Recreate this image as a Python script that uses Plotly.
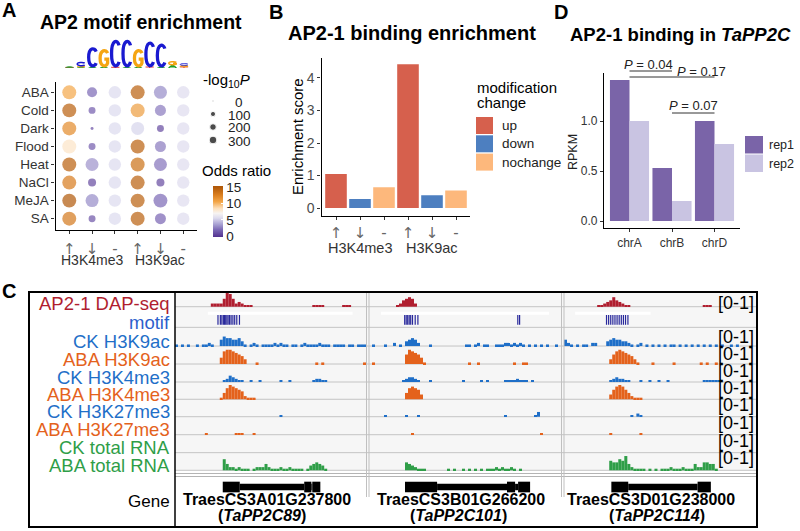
import plotly.graph_objects as go

W, H = 800, 531
SANS = "Liberation Sans, Arial, Helvetica, sans-serif"
ARROW_FONT = "DejaVu Sans, Liberation Sans, sans-serif"

# ---------------- panel A: motif enrichment dot plot ----------------
STRESS = ["ABA", "Cold", "Dark", "Flood", "Heat", "NaCl", "MeJA", "SA"]
CHANGE_ARROWS = ["↑", "↓", "-", "↑", "↓", "-"]
MARKS = ["H3K4me3", "H3K9ac"]
NEG_LOG10_P = [
    [1200, 560, 920, 1200, 1020, 920],
    [1200, 230, 920, 1200, 700, 920],
    [1200, 17, 920, 1020, 230, 920],
    [1200, 230, 920, 1200, 700, 920],
    [1200, 1020, 920, 1200, 1020, 920],
    [1200, 330, 920, 1200, 330, 920],
    [1200, 1020, 920, 1200, 1200, 920],
    [1200, 230, 920, 1200, 700, 920],
]
ODDS_RATIO = [
    [10.5, 2.0, 5.5, 14.5, 3.0, 5.6],
    [14.5, 1.5, 5.5, 11.0, 2.5, 5.6],
    [12.0, 1.0, 5.5, 5.3, 0.8, 5.6],
    [8.2, 1.5, 5.5, 14.5, 2.5, 5.6],
    [14.5, 3.2, 5.5, 13.5, 2.3, 5.6],
    [12.8, 0.8, 5.5, 14.5, 0.8, 5.6],
    [15.0, 3.0, 5.5, 14.5, 2.0, 5.6],
    [13.0, 1.2, 5.5, 14.5, 1.8, 5.6],
]
SIZE_BREAKS = [0, 100, 200, 300]
ODDS_TICKS = [0, 5, 10, 15]
ODDS_MIN, ODDS_MAX = -0.2, 15.3
ODDS_COLORS = [(0, "#52318f"), (2, "#7b68b5"), (3.5, "#a49cd0"), (5.5, "#dcdaee"),
               (7, "#f7f4f2"), (8.5, "#fde0bb"), (10.5, "#f3a648"), (12.5, "#dc8020"),
               (15, "#b05808")]

# sequence logo (letter, bits) stacked bottom to top
LOGO = [
    [("T", 0.04), ("A", 0.05)],
    [("A", 0.07), ("G", 0.08), ("C", 0.26)],
    [("A", 0.08), ("C", 1.36)],
    [("A", 0.08), ("G", 1.22)],
    [("T", 0.05), ("C", 1.95)],
    [("A", 0.05), ("C", 1.95)],
    [("A", 0.08), ("G", 1.22)],
    [("T", 0.07), ("C", 1.8)],
    [("A", 0.06), ("C", 1.65)],
    [("A", 0.22), ("G", 0.24)],
    [("T", 0.08), ("G", 0.1), ("C", 0.14)],
]
LOGO_COLORS = {"A": "#1fa02a", "C": "#1a1ad0", "G": "#f5a512", "T": "#e02020"}

# ---------------- panel B: binding enrichment ----------------
B_CHANGE = ["up", "down", "nochange", "up", "down", "nochange"]
B_SCORE = [1.05, 0.28, 0.64, 4.42, 0.39, 0.54]
CHANGE_COLORS = {"up": "#d6604d", "down": "#4d7fc0", "nochange": "#fdb87c"}

# ---------------- panel D: RPKM ----------------
D_CHR = ["chrA", "chrB", "chrD"]
D_REP1 = [1.41, 0.53, 1.0]
D_REP2 = [1.0, 0.20, 0.77]
D_TESTS = [("chrA", "chrB", 0.04), ("chrA", "chrD", 0.17), ("chrB", "chrD", 0.07)]

# ---------------- panel C: genome browser ----------------
GENE_IDS = ["TraesCS3A01G237800", "TraesCS3B01G266200", "TraesCS3D01G238000"]
GENE_NAMES = ["TaPP2C89", "TaPP2C101", "TaPP2C114"]
ZERO = "0" * 64
# coverage, 64 bins per locus, heights 0-9 (each track scaled [0-1])
DAP_SEQ = ["00000000 00002222 59852321 11000000 00000000 00000011 11000000 11100000",
           "00000000 01245652 00000000 00000000 00000000 00000000 00000000 00000000",
           "00000000 00011234 64321100 00000000 00000000 00000011 10000000 00000000"]
CK_H3K9AC = ["10101001 01121004 65544531 01210111 12121101 10121111 21110111 10110111",
             "01000100 20103454 20001000 00000000 11012011 00111221 21210101 01010010",
             "42101011 02200034 54433210 12010101 01011010 10101010 10101001 01000000"]
ABA_H3K9AC = ["00000000 00000004 89987653 00010000 00000000 00000001 01000000 00000001",
              "01000000 00006987 64100000 00000000 01001000 00000000 10011000 00000000",
              "00000000 00000003 68987653 10000100 00001000 00000101 00100000 00000000"]
CK_H3K4ME3 = ["00000000 00000000 12432110 01001000 00010010 00000012 21100000 00000000",
              "00000000 00012332 10001000 00000001 00000101 00000111 12111010 00000000",
              "00000000 00000001 23221100 01001001 00100000 00000011 11110000 00000000"]
ABA_H3K4ME3 = ["00000000 00000001 47987652 11100000 00000000 00000000 00000000 00000000",
               "00000000 00004787 63000000 00000000 00000000 00000000 00000000 00000000",
               "00000000 00000003 68986421 11000000 00000000 00000000 00000000 00000000"]
CK_H3K27ME3 = ["00000000 00000000 00000000 00000000 00010000 00000000 00000000 00000000",
               "00000100 00001000 10000000 00000000 00000000 00000100 00000001 30000000",
               "00000000 00000000 00000010 21000000 00000000 00000000 00000000 00000000"]
ABA_H3K27ME3 = ["00000000 00100000 00001110 00100000 00000000 00000000 00000000 00000000",
                "00000000 00000010 00000000 00000000 00000000 00000000 00000000 01000000",
                "00000000 00000001 00000000 01000000 00000000 00000000 00000000 00000000"]
CK_RNA = [ZERO, ZERO, ZERO]
ABA_RNA = ["00000000 00000000 74221211 10122242 11121121 11101345 43100000 00000000",
           "00000000 00005432 11100000 00101001 01010101 11212112 10100000 00000000",
           "00000000 00000006 55769421 11101010 11121112 11142255 44100000 00000000"]
MOTIF_SITES = [[14.4, 15.2, 15.7, 16.2, 16.6, 17.0, 17.4, 17.8, 18.3, 18.8, 19.4, 20.0, 20.7, 21.6],
               [11.9, 12.4, 12.9, 13.4, 13.9, 14.5, 15.4, 16.3, 49.6, 50.2],
               [14.1, 14.8, 15.5, 16.2, 16.9, 17.6, 18.3, 19.0, 19.7, 20.4, 21.2]]
MOTIF_BAND = [(11, 59.5), (4, 60), (3.7, 28.7)]
# gene model blocks (start, end, thick?)
GENE_BLOCKS = [
    [(16, 21.7, 1), (21.7, 43.3, 0), (43.3, 45.7, 1), (45.7, 46, 0), (46, 48.7, 1)],
    [(12, 22.7, 1), (22.7, 46, 0), (46, 48.7, 1), (48.7, 49.7, 0), (49.7, 53.7, 1)],
    [(15.7, 21.3, 1), (21.3, 44.3, 0), (44.3, 48.7, 1)],
]
TRACKS = [
    ("AP2-1 DAP-seq", "#b01e2f", DAP_SEQ),
    ("motif", "#2d5fcc", None),
    ("CK H3K9ac", "#1f6fc8", CK_H3K9AC),
    ("ABA H3K9ac", "#e4621c", ABA_H3K9AC),
    ("CK H3K4me3", "#1f6fc8", CK_H3K4ME3),
    ("ABA H3K4me3", "#e4621c", ABA_H3K4ME3),
    ("CK H3K27me3", "#1f6fc8", CK_H3K27ME3),
    ("ABA H3K27me3", "#e4621c", ABA_H3K27ME3),
    ("CK total RNA", "#2f9e48", CK_RNA),
    ("ABA total RNA", "#2f9e48", ABA_RNA),
]


def fx(x):
    return x / W


def fy(y):
    return 1 - y / H


def dot_size(v):
    return 1.5 + 0.36 * v ** 0.5


def digits(s):
    return [int(c) for c in s.replace(" ", "")]


annotations = []
shapes = []


def label(x, y, s, size, color="black", xanchor="center", angle=0, family=SANS,
          xref="paper", yref="paper"):
    annotations.append(dict(
        x=fx(x) if xref == "paper" else x, y=fy(y) if yref == "paper" else y,
        xref=xref, yref=yref, text=s, showarrow=False, xanchor=xanchor,
        yanchor="middle", textangle=angle,
        font=dict(family=family, size=size, color=color)))


def axis_style(**kw):
    base = dict(showline=True, linecolor="black", linewidth=1.4, ticks="outside",
                ticklen=3, tickcolor="#333", tickwidth=1, showgrid=False,
                zeroline=False, fixedrange=True,
                tickfont=dict(family=SANS, size=13, color="#4d4d4d"))
    base.update(kw)
    return base


fig = go.Figure()

# ---- A: dots
dx, dy, ds, dc = [], [], [], []
for r, row in enumerate(NEG_LOG10_P):
    for c, v in enumerate(row):
        dx.append(c + 1)
        dy.append(r + 1)
        ds.append(dot_size(v))
        dc.append(ODDS_RATIO[r][c])
scale = [[(v - ODDS_MIN) / (ODDS_MAX - ODDS_MIN), col] for v, col in ODDS_COLORS]
scale = [[0, ODDS_COLORS[0][1]]] + scale[1:] + [[1, ODDS_COLORS[-1][1]]]
fig.add_trace(go.Scatter(
    x=dx, y=dy, mode="markers", xaxis="x", yaxis="y", cliponaxis=False,
    hoverinfo="skip",
    marker=dict(size=ds, color=dc, colorscale=scale, cmin=ODDS_MIN, cmax=ODDS_MAX,
                line=dict(width=0), showscale=True,
                colorbar=dict(x=fx(213), xanchor="left", y=fy(186), yanchor="top",
                              len=51, lenmode="pixels", thickness=10,
                              thicknessmode="pixels", tickvals=ODDS_TICKS,
                              ticks="inside", ticklen=2, tickcolor="white",
                              outlinewidth=0, xpad=0, ypad=0,
                              tickfont=dict(family=SANS, size=13.5, color="#222")))))

# size legend (pixel overlay axes)
fig.add_trace(go.Scatter(
    x=[213] * len(SIZE_BREAKS), y=[101, 114, 127, 140], mode="markers",
    xaxis="x8", yaxis="y6", hoverinfo="skip",
    marker=dict(size=[dot_size(b) for b in SIZE_BREAKS], color="black")))
for yy, b in zip([101, 114, 127, 140], SIZE_BREAKS):
    label(239, yy + 1, str(b), 13.5, "#222")
label(201, 80, "-log<sub>10</sub><i>P</i>", 15, xanchor="left")
label(200, 170, "Odds ratio", 15, xanchor="left")

# logo glyphs
GLYPHS = {
    "C": "M .88,.8 C .72,1.03 .12,1.03 .12,.5 C .12,-.03 .72,-.03 .88,.2",
    "G": "M .88,.8 C .72,1.03 .12,1.03 .12,.5 C .12,-.03 .76,-.03 .88,.22 L .88,.45 L .55,.45",
    "A": "M .1,0 L .5,1 L .9,0 M .27,.38 L .73,.38",
    "T": "M .08,1 L .92,1 M .5,1 L .5,0",
}


def glyph_path(letter, xc, y0, h):
    out = []
    for tok in GLYPHS[letter].split():
        if tok.isalpha():
            out.append(tok)
            continue
        u, v = (float(t) for t in tok.split(","))
        out.append(f"{xc - 0.43 + 0.86 * u:.4f},{y0 + h * v:.4f}")
    return " ".join(out)


for pos, stack in enumerate(LOGO, start=1):
    y0 = 0.0
    for letter, h in stack:
        w = 3.3 if h > 0.6 else (1.5 if h > 0.15 else 0.9)
        shapes.append(dict(type="path", xref="x7", yref="y5",
                           path=glyph_path(letter, pos, y0, h),
                           line=dict(color=LOGO_COLORS[letter], width=w)))
        y0 += h

label(8.5, 10, "<b>A</b>", 20)
label(141, 22, "<b>AP2 motif enrichment</b>", 19.5)
for i, m in enumerate(MARKS):
    label(2 + 3 * i, 260, m, 14, "#333", xref="x")

# ---- B: bars
fig.add_trace(go.Bar(
    x=list(range(1, 7)), y=B_SCORE, xaxis="x2", yaxis="y2", width=0.9,
    marker=dict(color=[CHANGE_COLORS[c] for c in B_CHANGE], line=dict(width=0)),
    hoverinfo="skip"))
label(276, 12, "<b>B</b>", 20)
label(412, 33, "<b>AP2-1 binding enrichment</b>", 20)
label(297, 137, "Enrichment score", 15, angle=-90)
for i, m in enumerate(MARKS):
    label(2 + 3 * i, 248, m, 14.5, "#333", xref="x2")
label(475, 88, "modification", 15, xanchor="left")
label(475, 102, "change", 15, xanchor="left")
for i, ch in enumerate(["up", "down", "nochange"]):
    y0 = 117 + 18.3 * i
    shapes.append(dict(type="rect", xref="paper", yref="paper", x0=fx(476), x1=fx(493),
                       y0=fy(y0), y1=fy(y0 + 17), fillcolor=CHANGE_COLORS[ch],
                       line=dict(width=0)))
    label(500, y0 + 8.5, ch, 13.5, "#222", xanchor="left")

# ---- D: grouped bars
dxi = list(range(1, len(D_CHR) + 1))
fig.add_trace(go.Bar(x=dxi, y=D_REP1, xaxis="x3", yaxis="y3", width=0.46, offset=-0.46,
                     marker=dict(color="#7a64a8", line=dict(width=0)), hoverinfo="skip"))
fig.add_trace(go.Bar(x=dxi, y=D_REP2, xaxis="x3", yaxis="y3", width=0.46, offset=0,
                     marker=dict(color="#c9c4e2", line=dict(width=0)), hoverinfo="skip"))
label(561, 12, "<b>D</b>", 20)
label(680, 34, "<b>AP2-1 binding in <i>TaPP2C</i></b>", 18.5)
label(573, 152, "RPKM", 12.5, "#222", angle=-90)
for i, (rep, col) in enumerate([("rep1", "#7a64a8"), ("rep2", "#c9c4e2")]):
    y0 = 136 + 18.5 * i
    shapes.append(dict(type="rect", xref="paper", yref="paper", x0=fx(745), x1=fx(763),
                       y0=fy(y0), y1=fy(y0 + 17.5), fillcolor=col, line=dict(width=0)))
    label(767, y0 + 9, rep, 12.5, "#222", xanchor="left")
# significance brackets: (line y px, text x px, text y px)
P_PLACE = [(71, 648, 65), (77, 701, 71), (113, 693, 106)]
for (a, b, p), (ly, tx, ty) in zip(D_TESTS, P_PLACE):
    shapes.append(dict(type="line", xref="x3", yref="paper", x0=D_CHR.index(a) + 1,
                       x1=D_CHR.index(b) + 1, y0=fy(ly), y1=fy(ly),
                       line=dict(color="#333", width=1)))
    label(tx, ty, f"<i>P</i> = {p:.2f}", 13, "#222")

# ---- C: genome browser
ROW_BASE = [0.77, 1.93, 2.98, 3.99, 5.0, 5.97, 6.95, 7.96, 8.97, 9.96]
UNIT = 17.8
C_TOP = 293
SIG = 0.089
GENE_Y = 10.9


def cy(u):
    return C_TOP + u * UNIT


shapes.append(dict(type="rect", xref="paper", yref="paper", x0=fx(175), x1=fx(757),
                   y0=fy(C_TOP), y1=fy(cy(ROW_BASE[-1])), fillcolor="#f6f6f6",
                   line=dict(width=0), layer="below"))
for b in ROW_BASE:
    shapes.append(dict(type="line", xref="paper", yref="paper", x0=fx(175), x1=fx(757),
                       y0=fy(cy(b)), y1=fy(cy(b)), line=dict(color="#c4c4c4", width=1),
                       layer="below"))
for yy in (473.5, 476.5):
    shapes.append(dict(type="line", xref="paper", yref="paper", x0=fx(175), x1=fx(757),
                       y0=fy(yy), y1=fy(yy), line=dict(color="#b4b4b4", width=1)))
for xx in (366.5, 369, 561.5, 564):
    shapes.append(dict(type="line", xref="paper", yref="paper", x0=fx(xx), x1=fx(xx),
                       y0=fy(C_TOP), y1=fy(497), line=dict(color="#c0c0c0", width=1)))

for k, (name, col, cov) in enumerate(TRACKS):
    label(172, cy(ROW_BASE[k]) - 5 if k else 303, name, 18.5, col, xanchor="right")
    for g in range(3):
        xa = f"x{4 + g}"
        if cov is None:
            s, e = MOTIF_BAND[g]
            fig.add_trace(go.Scatter(x=[s, e], y=[ROW_BASE[k] - 0.79] * 2, mode="lines",
                                     xaxis=xa, yaxis="y4", hoverinfo="skip",
                                     line=dict(color="white", width=3)))
            fig.add_trace(go.Scatter(
                x=MOTIF_SITES[g], y=[ROW_BASE[k] - 0.42] * len(MOTIF_SITES[g]),
                mode="markers", xaxis=xa, yaxis="y4", hoverinfo="skip",
                marker=dict(symbol="line-ns", size=7,
                            line=dict(width=1.2, color="#28289c"))))
            continue
        vals = digits(cov[g])
        xs = [i + 0.5 for i, v in enumerate(vals) if v > 0]
        hs = [-v * SIG for v in vals if v > 0]
        fig.add_trace(go.Bar(x=xs, y=hs, base=ROW_BASE[k], xaxis=xa, yaxis="y4",
                             width=1, marker=dict(color=col, line=dict(width=0)),
                             hoverinfo="skip"))

for g, blocks in enumerate(GENE_BLOCKS):
    for s, e, thick in blocks:
        hh = 0.3 if thick else 0.18
        shapes.append(dict(type="rect", xref=f"x{4 + g}", yref="y4", x0=s, x1=e,
                           y0=GENE_Y - hh, y1=GENE_Y + hh, fillcolor="black",
                           line=dict(width=0)))

for k in [0, 2, 3, 4, 5, 6, 7, 8, 9]:
    label(756, [303, 0, 337, 354, 371, 388, 405, 423, 441, 458][k], "[0-1]", 18,
          xanchor="right")
label(172, 501, "Gene", 17, xanchor="right")
for cx1, cx2, gid, gname in zip([267, 461, 651], [262, 458, 657], GENE_IDS, GENE_NAMES):
    label(cx1, 500, f"<b>{gid}</b>", 16)
    label(cx2, 515, f"<b>(<i>{gname}</i>)</b>", 16)

shapes.append(dict(type="rect", xref="paper", yref="paper", x0=fx(29), x1=fx(757),
                   y0=fy(292), y1=fy(527), line=dict(color="black", width=2)))
shapes.append(dict(type="line", xref="paper", yref="paper", x0=fx(175), x1=fx(175),
                   y0=fy(292), y1=fy(527), line=dict(color="black", width=1.5)))
label(9, 291, "<b>C</b>", 20)

hidden = dict(visible=False, fixedrange=True)
arrow_ticks = dict(family=ARROW_FONT, size=15, color="#666")
fig.update_layout(
    width=W, height=H, margin=dict(l=0, r=0, t=0, b=0),
    paper_bgcolor="white", plot_bgcolor="rgba(0,0,0,0)", showlegend=False,
    barmode="overlay", font=dict(family=SANS, color="black"),
    xaxis=axis_style(domain=[fx(55.6), fx(196.9)], range=[0.4, 6.6], anchor="y",
                     tickvals=list(range(1, 7)), ticktext=CHANGE_ARROWS,
                     tickfont=arrow_ticks, ticklabelstandoff=2),
    yaxis=axis_style(domain=[fy(229.5), fy(81.5)], range=[8.6, 0.4], anchor="x",
                     tickvals=list(range(1, 9)), ticktext=STRESS,
                     tickfont=dict(family=SANS, size=13.5, color="#333")),
    xaxis2=axis_style(domain=[fx(321.6), fx(470.4)], range=[0.4, 6.6], anchor="y2",
                      tickvals=list(range(1, 7)), ticktext=CHANGE_ARROWS,
                      tickfont=arrow_ticks, ticklabelstandoff=0),
    yaxis2=axis_style(domain=[fy(216), fy(58)], range=[-0.246, 4.615], anchor="x2",
                      tickvals=[0, 1, 2, 3, 4],
                      tickfont=dict(family=SANS, size=14, color="#4d4d4d")),
    xaxis3=axis_style(domain=[fx(604), fx(740)], range=[0.4, 3.6], anchor="y3",
                      tickvals=dxi, ticktext=D_CHR,
                      tickfont=dict(family=SANS, size=12, color="#333")),
    yaxis3=axis_style(domain=[fy(228), fy(73)], range=[-0.07, 1.48], anchor="x3",
                      tickvals=[0, 0.5, 1.0], ticktext=["0.0", "0.5", "1.0"],
                      tickfont=dict(family=SANS, size=12, color="#333")),
    xaxis4=dict(hidden, domain=[fx(175), fx(366)], range=[0, 64], anchor="y4"),
    xaxis5=dict(hidden, domain=[fx(369), fx(561)], range=[0, 64], anchor="y4"),
    xaxis6=dict(hidden, domain=[fx(564), fx(757)], range=[0, 64], anchor="y4"),
    yaxis4=dict(hidden, domain=[fy(497), fy(C_TOP)], range=[(497 - C_TOP) / UNIT, 0],
                anchor="x4"),
    xaxis7=dict(hidden, domain=[fx(63.8), fx(189.7)], range=[0.5, 11.5], anchor="y5"),
    yaxis5=dict(hidden, domain=[fy(68), fy(38)], range=[0, 2.14], anchor="x7"),
    xaxis8=dict(hidden, domain=[0, 1], range=[0, W], anchor="y6"),
    yaxis6=dict(hidden, domain=[0, 1], range=[H, 0], anchor="x8"),
    annotations=annotations, shapes=shapes,
)

fig.write_html("out.html", config={"displayModeBar": False},
               post_script="document.body.style.margin='0';"
                           "document.body.style.overflow='hidden';")
